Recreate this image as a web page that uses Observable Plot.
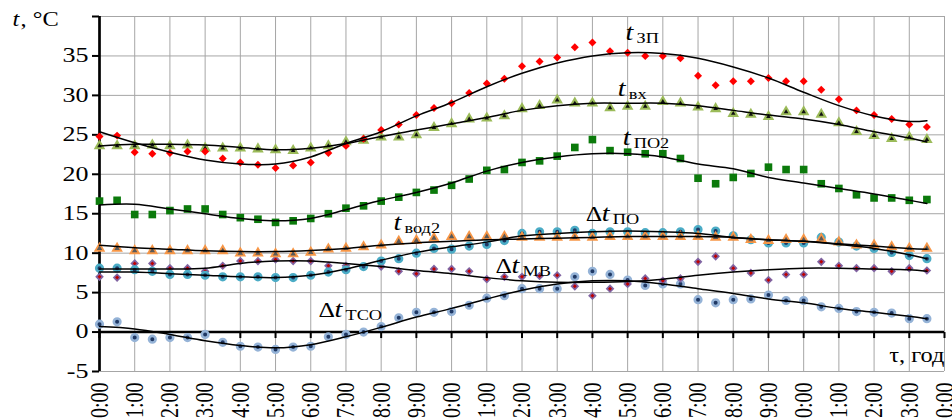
<!DOCTYPE html>
<html>
<head>
<meta charset="utf-8">
<script src="https://cdn.jsdelivr.net/npm/d3@7"></script>
<script src="https://cdn.jsdelivr.net/npm/@observablehq/plot@0.6"></script>
<style>
html, body { margin: 0; padding: 0; background: #fff; }
#chart { width: 952px; height: 418px; overflow: hidden; }
</style>
</head>
<body>
<div id="chart"></div>
<script>
// ---- categories (time of day, half-hourly) ----
const times = ["0:00","0:30","1:00","1:30","2:00","2:30","3:00","3:30","4:00","4:30","5:00","5:30",
  "6:00","6:30","7:00","7:30","8:00","8:30","9:00","9:30","10:00","10:30","11:00","11:30",
  "12:00","12:30","13:00","13:30","14:00","14:30","15:00","15:30","16:00","16:30","17:00","17:30",
  "18:00","18:30","19:00","19:30","20:00","20:30","21:00","21:30","22:00","22:30","23:00","23:30"];

// ---- measured series ----
const tZP = [24.8,24.9,22.8,22.6,22.7,22.9,22.9,22.0,21.5,21.2,20.8,21.1,
  21.5,22.7,23.6,24.5,25.6,26.3,27.5,28.4,29.0,30.3,31.5,32.1,
  33.7,34.3,34.8,36.1,36.7,35.6,35.4,35.0,35.0,34.7,32.5,31.3,
  31.8,31.8,32.2,31.8,31.8,30.7,29.5,28.1,27.5,27.0,26.3,26.0];
const tVX = [23.6,23.6,23.6,23.7,23.6,23.7,23.3,23.3,23.3,23.2,23.1,23.0,
  23.3,23.6,24.1,24.3,24.7,24.7,25.0,25.9,26.4,27.0,27.1,27.4,
  28.3,28.7,29.4,29.0,29.0,28.4,28.6,28.6,29.2,29.0,28.5,28.3,
  27.7,27.6,27.3,27.9,27.9,27.6,26.5,25.4,24.9,24.5,24.7,24.4];
const tPO2 = [16.6,16.7,14.9,14.9,15.4,15.6,15.6,14.9,14.5,14.3,13.9,14.1,
  14.4,15.0,15.7,16.0,16.6,17.1,17.7,18.0,18.6,19.4,20.5,20.6,
  21.5,21.7,22.3,23.4,24.4,23.0,22.8,22.6,22.6,22.0,19.5,18.8,
  19.6,20.1,20.9,20.6,20.6,18.8,18.2,17.4,17.0,17.0,16.7,16.8];
const tVOD2 = [10.6,10.6,10.3,10.3,10.3,10.3,10.3,10.3,10.0,10.0,9.9,9.9,
  10.1,10.5,10.6,10.8,11.0,11.5,11.6,11.9,12.1,12.1,12.1,12.1,
  12.0,12.0,12.0,12.0,12.0,12.1,12.1,12.1,12.1,12.1,12.1,12.0,
  12.0,11.7,11.6,11.7,11.7,11.8,11.4,11.0,11.0,10.8,10.6,10.6];
const dPO = [8.1,8.1,7.9,7.7,7.3,7.3,7.2,7.0,7.0,7.0,6.9,6.9,
  7.2,7.6,7.9,8.3,9.0,9.3,10.0,10.6,10.5,10.9,11.1,11.6,
  12.5,12.7,12.7,12.9,12.5,12.7,12.7,12.6,12.6,12.7,13.0,12.8,
  12.2,11.7,11.3,11.3,11.3,12.0,11.4,10.9,10.6,10.1,9.7,9.3];
const dMV = [7.0,6.9,8.7,8.7,8.1,8.1,7.7,8.4,9.0,9.0,9.2,9.0,
  9.0,8.4,8.4,8.3,8.3,7.7,7.4,8.0,8.0,7.7,6.7,7.0,
  7.0,7.1,7.2,5.8,4.6,5.5,6.1,6.8,6.5,6.8,8.9,9.6,
  8.1,7.5,6.6,7.3,7.3,8.9,8.4,8.1,8.1,7.7,8.1,7.8];
const dTSO = [1.0,1.3,-0.7,-0.9,-0.7,-0.7,-0.3,-1.3,-1.8,-1.9,-2.2,-1.9,
  -1.8,-0.6,-0.3,0.0,0.7,1.8,2.5,2.5,2.6,3.4,4.3,4.6,
  5.5,5.5,5.5,7.0,7.7,7.3,6.6,5.9,6.1,6.1,4.1,3.7,
  4.1,4.2,4.7,4.0,4.0,3.2,3.0,2.6,2.5,2.4,1.7,1.7];

// ---- trend lines (read hourly) ----
const trendTimes = ["0:00","1:00","2:00","3:00","4:00","5:00","6:00","7:00","8:00","9:00","10:00","11:00",
  "12:00","13:00","14:00","15:00","16:00","17:00","18:00","19:00","20:00","21:00","22:00","23:00","23:30"];
const tZPtrend   = [25.4,24.0,22.8,21.8,21.3,21.3,22.2,23.9,25.4,27.4,29.1,31.1,32.8,34.1,35.0,35.4,35.3,34.7,33.6,32.2,30.4,28.7,27.4,26.7,26.8];
const tVXtrend   = [23.6,23.8,23.8,23.7,23.4,23.1,23.3,23.9,24.8,25.6,26.4,27.2,28.1,28.7,29.0,29.0,29.0,28.7,28.1,27.5,27.0,26.3,25.4,24.6,24.1];
const tPO2trend  = [16.1,16.2,15.6,15.0,14.4,14.1,14.4,15.5,16.7,17.7,18.9,20.4,21.5,22.2,22.6,22.6,22.2,21.3,20.7,19.6,18.9,18.2,17.5,16.7,16.3];
const tVOD2trend = [11.0,10.7,10.5,10.3,10.2,10.2,10.35,10.6,11.0,11.3,11.5,11.7,11.8,11.9,12.0,12.1,12.1,12.1,12.0,11.7,11.5,11.2,10.9,10.6,10.5];
const dPOtrend   = [7.6,7.6,7.4,7.2,7.0,6.9,7.2,8.0,9.1,10.1,10.8,11.4,12.2,12.5,12.7,12.8,12.7,12.5,12.0,11.7,11.5,11.1,10.6,9.8,9.3];
const dMVtrend   = [8.0,8.0,8.0,8.1,8.7,9.0,9.0,8.7,8.3,7.8,7.4,6.9,6.5,6.3,6.3,6.4,6.7,7.2,7.6,7.9,8.1,8.1,8.0,7.9,7.7];
const dTSOtrend  = [0.7,0.4,-0.3,-1.1,-1.7,-2.0,-1.6,-0.6,0.6,1.9,3.0,4.2,5.3,6.1,6.5,6.5,6.1,5.5,4.9,4.2,3.7,3.0,2.5,2.0,1.7];

// ---- tick labels ----
const hourTicks = [0,1,2,3,4,5,6,7,8,9,10,11,12,13,14,15,16,17,18,19,20,21,22,23,24];
const hourLabels = ["0:00","1:00","2:00","3:00","4:00","5:00","6:00","7:00","8:00","9:00","10:00","11:00",
  "12:00","13:00","14:00","15:00","16:00","17:00","18:00","19:00","20:00","21:00","22:00","23:00","0:00"];
const yTicks = [-5,0,5,10,15,20,25,30,35,40];
const yTickLabels = ["-5","0","5","10","15","20","25","30","35",""];

// ---- series name labels (anchor in data units: hours, °C) ----
const plainLabels = [
  {sub: "ЗП",  x: 14.94, y: 36.96},
  {sub: "вх",  x: 14.72, y: 29.98},
  {sub: "ПО2", x: 14.86, y: 23.65},
  {sub: "вод2", x: 8.35, y: 12.88}
];
const deltaLabels = [
  {sub: "ПО",  x: 13.81, y: 14.14},
  {sub: "МВ",  x: 11.25, y: 7.43},
  {sub: "ТСО", x: 6.22,  y: 1.85}
];

const toHours = s => { const [h, m] = s.split(":").map(Number); return h + m / 60; };
const rows = (ts, vals) => ts.map((t, i) => ({x: toHours(t), y: vals[i]}));

const serif = "'Liberation Serif', 'Times New Roman', serif";
const gridColor = "#a6a6a6";
const tickSym = { draw(ctx) { ctx.moveTo(0, 0); ctx.lineTo(0, 6); } };

const line = (vals) => Plot.line(rows(trendTimes, vals), {x: "x", y: "y", stroke: "black", strokeWidth: 1.5, curve: "catmull-rom"});

const svg = Plot.plot({
  width: 952,
  height: 418,
  marginLeft: 99,
  marginRight: 8,
  marginTop: 16,
  marginBottom: 47,
  x: {domain: [0, 24]},
  y: {domain: [-5, 40]},
  style: {fontFamily: serif, fontSize: "20px", color: "black", background: "white"},
  marks: [
    Plot.gridX({ticks: hourTicks.slice(1), stroke: gridColor, strokeOpacity: 1, strokeWidth: 1}),
    Plot.gridY({ticks: yTicks, stroke: gridColor, strokeOpacity: 1, strokeWidth: 1}),
    Plot.axisY({ticks: yTicks, tickFormat: d => yTickLabels[yTicks.indexOf(d)], tickSize: 7, tickPadding: 4,
      strokeWidth: 2, fontSize: 20, fontFamily: serif, label: null}),
    Plot.axisX({ticks: hourTicks, tickFormat: d => hourLabels[d], tickRotate: -90, tickSize: 0, tickPadding: 11,
      fontSize: 20, fontFamily: serif, label: null, anchor: "bottom"}),
    Plot.ruleX([0], {stroke: "black", strokeWidth: 2.7}),
    Plot.ruleY([0], {stroke: "black", strokeWidth: 2.5}),
    Plot.dot(hourTicks, {x: d => d, y: 0, symbol: tickSym, stroke: "black", fill: "none", strokeWidth: 2, r: 3}),

    // measured points
    Plot.dot(rows(times, dTSO), {x: "x", y: "y", r: 3.3, fill: "#1f3864", stroke: "#95b3d7", strokeWidth: 2.6}),
    Plot.dot(rows(times, dMV), {x: "x", y: "y", symbol: "diamond2", r: 3.9, fill: "#8064a2"}),
    Plot.dot(rows(times, dMV), {x: "x", y: "y", symbol: "diamond2", r: 1.8, fill: "#c00000"}),
    Plot.dot(rows(times, dPO), {x: "x", y: "y", r: 3.3, fill: "#1f3864", stroke: "#4bacc6", strokeWidth: 2.6}),
    Plot.dot(rows(times, tVOD2), {x: "x", y: "y", symbol: "triangle", r: 4.3, fill: "#f79646"}),
    Plot.dot(rows(times, tVOD2), {x: "x", y: "y", symbol: "triangle", r: 2, fill: "#595959"}),
    Plot.dot(rows(times, tPO2), {x: "x", y: "y", symbol: "square", r: 4.3, fill: "#0b7a0b"}),
    Plot.dot(rows(times, tVX), {x: "x", y: "y", symbol: "triangle", r: 4.3, fill: "#9bbb59"}),
    Plot.dot(rows(times, tVX), {x: "x", y: "y", symbol: "triangle", r: 1.7, fill: "#111111"}),
    Plot.dot(rows(times, tZP), {x: "x", y: "y", symbol: "diamond2", r: 3.6, fill: "#ff0000"}),

    // trend lines
    line(tZPtrend), line(tVXtrend), line(tPO2trend), line(tVOD2trend),
    line(dPOtrend), line(dMVtrend), line(dTSOtrend),

    // series labels
    Plot.text(plainLabels, {x: "x", y: "y", text: () => "t", fontStyle: "italic", fontSize: 23, textAnchor: "start", lineAnchor: "bottom"}),
    Plot.text(plainLabels, {x: "x", y: "y", text: "sub", fontSize: 15, textAnchor: "start", lineAnchor: "bottom", dx: 11, dy: 3}),
    Plot.text(deltaLabels, {x: "x", y: "y", text: () => "Δ", fontSize: 21, textAnchor: "start", lineAnchor: "bottom"}),
    Plot.text(deltaLabels, {x: "x", y: "y", text: () => "t", fontStyle: "italic", fontSize: 23, textAnchor: "start", lineAnchor: "bottom", dx: 16}),
    Plot.text(deltaLabels, {x: "x", y: "y", text: "sub", fontSize: 15, textAnchor: "start", lineAnchor: "bottom", dx: 27, dy: 3}),

    // axis titles
    Plot.text(["t"], {text: d => d, frameAnchor: "top-left", dx: -87, dy: 9, fontStyle: "italic", fontSize: 20, textAnchor: "start", lineAnchor: "bottom"}),
    Plot.text([", °C"], {text: d => d, frameAnchor: "top-left", dx: -79, dy: 9, fontSize: 20, textAnchor: "start", lineAnchor: "bottom"}),
    Plot.text(["τ, год"], {text: d => d, frameAnchor: "bottom-right", dx: 0, dy: -10, fontSize: 20, textAnchor: "end", lineAnchor: "bottom"})
  ]
});

document.getElementById("chart").append(svg);

// widen glyphs like the reference's stretched serif text
d3.select(svg).selectAll("text").each(function() {
  const t = this.getAttribute("transform") || "";
  const inLabel = this.closest('g[aria-label="text"]') !== null;
  if (t.includes("rotate")) this.setAttribute("transform", t + " scale(1,1.3)");
  else this.setAttribute("transform", t + (inLabel ? " scale(1.22,1)" : " scale(1.3,1)"));
});
</script>
</body>
</html>
